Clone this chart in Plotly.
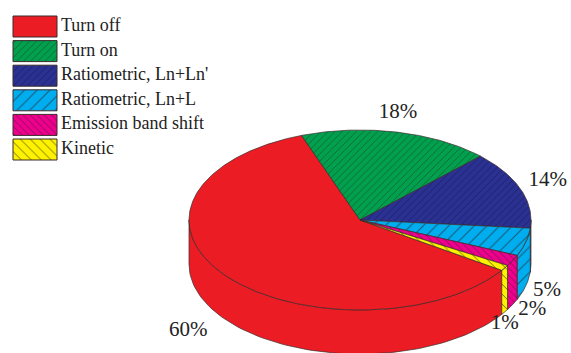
import numpy as np
import plotly.graph_objects as go

labels = ["Turn off", "Turn on", "Ratiometric, Ln+Ln'", "Ratiometric, Ln+L", "Emission band shift", "Kinetic"]
values = [60, 18, 14, 5, 2, 1]
text_labels = ["60%", "18%", "14%", "5%", "2%", "1%"]
colors = ["#ec1c24", "#00a04e", "#2b3192", "#00aeef", "#ec008c", "#fff200"]
patterns = ["", "/", "/", "/", "\\", "\\"]
pat_size = [6, 5, 5, 9, 5, 7]
pat_fg = ["#333", "#1e4a2a", "#151a4a", "#1d5a78", "#5a1040", "#5a5a10"]

W, H = 571, 353
cx, cy, a, b, depth = 360, 220, 171, 90, 44
start = -34.0  # angle where first slice begins, going clockwise
edge = "#3a2a2a"
font_fam = "Times New Roman, Liberation Serif, serif"

fig = go.Figure()

def pt(th, dy=0.0):
    r = np.radians(th)
    return cx + a * np.cos(r), cy - b * np.sin(r) + dy

total = sum(values)
bounds = []
ang = start
for v in values:
    span = 360.0 * v / total
    bounds.append((ang - span, ang))
    ang -= span

def add_poly(xs, ys, i, lw=0.7):
    kw = dict(fill="toself", fillcolor=colors[i], mode="lines",
              line=dict(color=edge, width=lw), hoverinfo="skip", showlegend=False)
    if patterns[i]:
        kw["fillpattern"] = dict(shape=patterns[i], size=pat_size[i], solidity=0.12,
                                 fgcolor=pat_fg[i], bgcolor=colors[i], fillmode="replace")
    fig.add_trace(go.Scatter(x=list(xs), y=list(ys), **kw))

# side walls (front half: angles in (-180, 0) modulo 360)
for i, (lo, hi) in enumerate(bounds):
    for k in range(-2, 2):
        wlo, whi = -180 + 360 * k, 0 + 360 * k
        s, e = max(lo, wlo), min(hi, whi)
        if e - s > 0.01:
            th = np.linspace(s, e, 80)
            xt, yt = pt(th)
            xb, yb = pt(th[::-1], depth)
            add_poly(np.concatenate([xt, xb, xt[:1]]), np.concatenate([yt, yb, yt[:1]]), i)

# top faces
for i, (lo, hi) in enumerate(bounds):
    th = np.linspace(hi, lo, max(4, int((hi - lo) * 2)))
    xs, ys = pt(th)
    add_poly(np.concatenate([[cx], xs, [cx]]), np.concatenate([[cy], ys, [cy]]), i)

# percentage labels
label_dx = [-10, -6, -5, -12, -11, -29]
label_dy = [0, -2, -2, 0, -3, 2]
for i, (lo, hi) in enumerate(bounds):
    mid = (lo + hi) / 2
    r = np.radians(mid)
    x = cx + 1.2 * a * np.cos(r) + label_dx[i]
    y = cy - 1.2 * b * np.sin(r) + label_dy[i]
    if np.sin(r) < 0:
        y += depth
    fig.add_trace(go.Scatter(x=[x], y=[y], mode="text", text=[text_labels[i]],
                             textfont=dict(family=font_fam, size=21, color="#222"),
                             hoverinfo="skip", showlegend=False))

# legend boxes
lx0, lx1, ly0, step, bh = 13, 57, 16, 24.6, 21
for i, lab in enumerate(labels):
    y0 = ly0 + i * step
    add_poly([lx0, lx1, lx1, lx0, lx0], [y0, y0, y0 + bh, y0 + bh, y0], i, lw=1)
    fig.add_trace(go.Scatter(x=[lx1 + 4], y=[y0 + bh / 2], mode="text", text=[lab],
                             textposition="middle right",
                             textfont=dict(family=font_fam, size=18, color="#222"),
                             hoverinfo="skip", showlegend=False))

fig.update_layout(
    width=W, height=H, margin=dict(l=0, r=0, t=0, b=0),
    paper_bgcolor="white", plot_bgcolor="white", showlegend=False,
    xaxis=dict(range=[0, W], visible=False, fixedrange=True),
    yaxis=dict(range=[H, 0], visible=False, fixedrange=True),
)
fig.write_html("out.html")
